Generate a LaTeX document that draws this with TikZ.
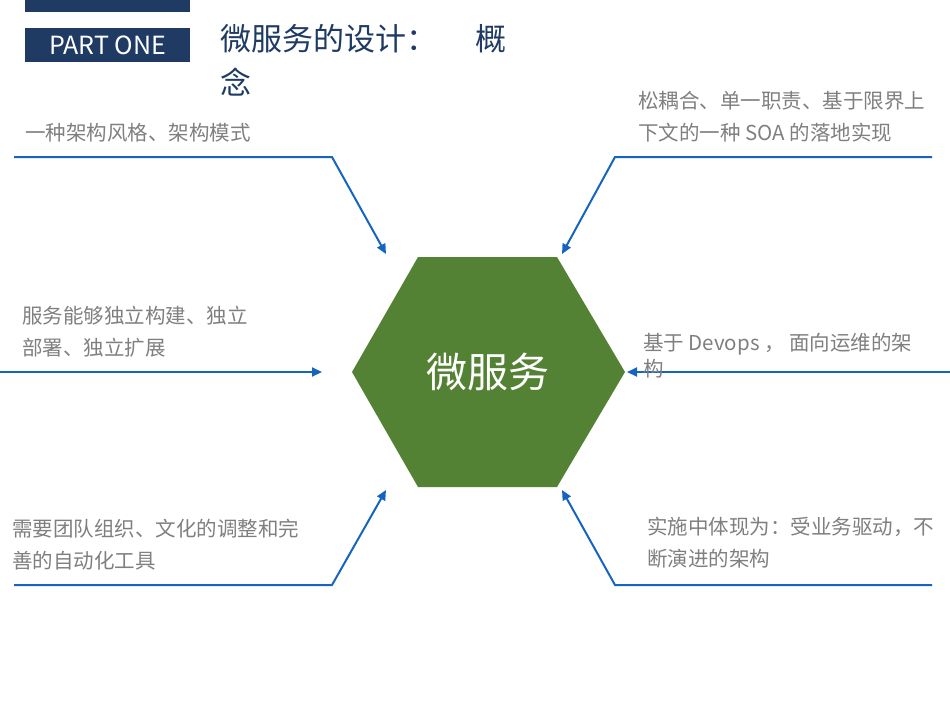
\documentclass[tikz,border=0pt]{standalone}
\usepackage{fontspec}
\setmainfont{Noto Sans CJK SC}
\usetikzlibrary{arrows.meta}
\definecolor{navy}{HTML}{1F3B64}
\definecolor{hexg}{HTML}{548235}
\definecolor{lineb}{HTML}{1565C0}
\definecolor{txtg}{HTML}{7F7F7F}
\tikzset{
  conn/.style={lineb, line width=2pt, -{Triangle[length=10pt,width=9pt]}},
  lbl/.style={txtg, font=\fontsize{20.5}{32}\selectfont, anchor=west, inner sep=0pt, align=left}
}
\begin{document}
\begin{tikzpicture}[x=1pt,y=-1pt]
\useasboundingbox (0,0) rectangle (950,713);
\fill[navy] (25,0) rectangle (190,12);
\node[fill=navy, minimum width=165pt, minimum height=34pt, anchor=north west, inner sep=0pt, text=white, font=\fontsize{25}{28}\selectfont] (part) at (25,28) {PART ONE};
\node[navy, anchor=north west, inner sep=0pt, align=left, font=\fontsize{31}{44}\selectfont] (title) at (220,24) {微服务的设计：\hspace{38pt}概\\念};
\fill[hexg] (352,372) -- (418,257) -- (557,257) -- (625,372) -- (557,487) -- (418,487) -- cycle;
\node[text=white, font=\fontsize{41}{46}\selectfont] (hex) at (488,372) {微服务};
\coordinate (hTL) at (386,254); \coordinate (hTR) at (562,254);
\coordinate (hL) at (322,372); \coordinate (hR) at (627,372);
\coordinate (hBL) at (386,490); \coordinate (hBR) at (562,490);
\draw[conn] (14,157) -- (332,157) -- (hTL);
\draw[conn] (932,157) -- (615,157) -- (hTR);
\draw[conn] (0,372) -- (hL);
\draw[conn] (950,372) -- (hR);
\draw[conn] (14,585) -- (332,585) -- (hBL);
\draw[conn] (932,585) -- (615,585) -- (hBR);
\node[lbl] (t1) at (25,133) {一种架构风格、架构模式};
\node[lbl] (t2) at (638,117) {松耦合、单一职责、基于限界上\\下文的一种 SOA 的落地实现};
\node[lbl] (t3) at (22,332) {服务能够独立构建、独立\\部署、独立扩展};
\node[lbl, font=\fontsize{20.5}{26}\selectfont] (t4) at (643,356) {基于 Devops ， 面向运维的架\\构};
\node[lbl] (t5) at (12,545) {需要团队组织、文化的调整和完\\善的自动化工具};
\node[lbl] (t6) at (647,543) {实施中体现为：受业务驱动，不\\断演进的架构};
\end{tikzpicture}
\end{document}
